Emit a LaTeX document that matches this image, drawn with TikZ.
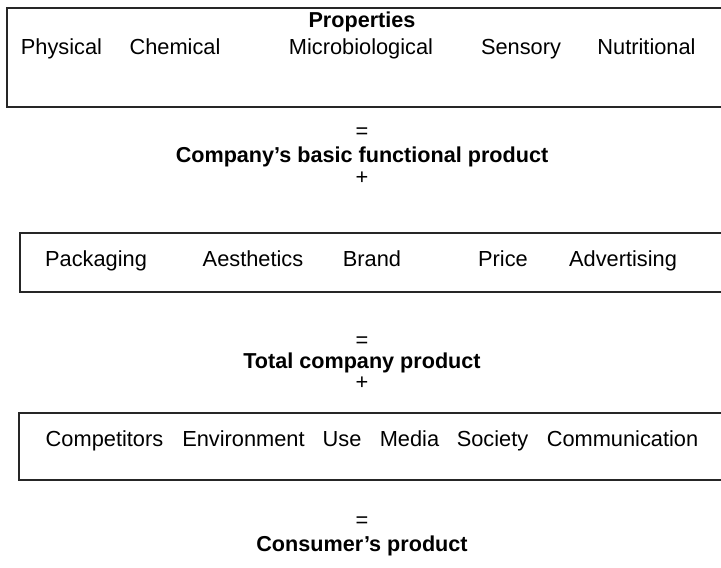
\documentclass[tikz,border=0pt]{standalone}
\usepackage{fontspec}
\setmainfont{Liberation Sans}
\begin{document}
\begin{tikzpicture}[x=0.5pt,y=-0.5pt,
  lbl/.style={anchor=base,inner sep=0pt,font=\fontsize{10.9pt}{12pt}\selectfont},
  ttl/.style={lbl,font=\fontsize{10.8pt}{12pt}\selectfont\bfseries},
  sym/.style={lbl},
  frame/.style={draw=black!85,line width=1pt}]
\useasboundingbox (0,0) rectangle (721,567);
\clip (0,0) rectangle (721,567);
% boxes
\draw[frame] (7,8) rectangle (740,107);
\draw[frame] (20,233) rectangle (740,292);
\draw[frame] (19,413) rectangle (740,480);
% box 1
\node[ttl] (prop) at (362,28) {Properties};
\node[lbl] (phys) at (61.5,55) {Physical};
\node[lbl] (chem) at (175,55) {Chemical};
\node[lbl] (micro) at (361,55) {Microbiological};
\node[lbl] (sens) at (521,55) {Sensory};
\node[lbl] (nutr) at (646.5,55) {Nutritional};
% middle 1
\node[sym] (eq1) at (362,138) {=};
\node[ttl] (cbfp) at (362,162) {Company’s basic functional product};
\node[sym] (plus1) at (362,184) {+};
% box 2
\node[lbl] (pack) at (96,266) {Packaging};
\node[lbl] (aest) at (253,266) {Aesthetics};
\node[lbl] (brand) at (372,266) {Brand};
\node[lbl] (price) at (503,266) {Price};
\node[lbl] (adv) at (623,266) {Advertising};
% middle 2
\node[sym] (eq2) at (362,347) {=};
\node[ttl] (tcp) at (362,368) {Total company product};
\node[sym] (plus2) at (362,389) {+};
% box 3
\node[lbl] (comp) at (104.5,446) {Competitors};
\node[lbl] (env) at (243.5,446) {Environment};
\node[lbl] (use) at (342,446) {Use};
\node[lbl] (media) at (409.5,446) {Media};
\node[lbl] (soc) at (492.5,446) {Society};
\node[lbl] (comm) at (622.5,446) {Communication};
% bottom
\node[sym] (eq3) at (362,527) {=};
\node[ttl] (cp) at (362,551) {Consumer’s product};
\end{tikzpicture}
\end{document}
